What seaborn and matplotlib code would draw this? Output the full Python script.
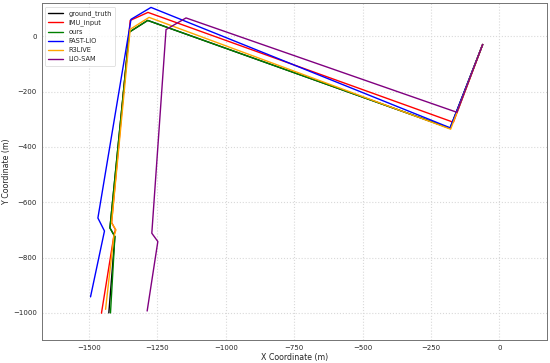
import pandas as pd
import seaborn as sns
import matplotlib.pyplot as plt

# trajectories (metres), start point is top right
methods = ['ground_truth', 'IMU_input', 'ours', 'FAST-LIO', 'R3LIVE', 'LIO-SAM']
colors = ['black', 'red', 'green', 'blue', 'orange', 'purple']

gt_x = [-61, -180, -1285, -1352, -1423, -1405, -1427]
gt_y = [-30, -333, 57, 15, -693, -724, -1000]

imu_x = [-61, -168, -1284, -1349, -1417, -1403, -1409, -1454]
imu_y = [-30, -311, 86, 57, -673, -699, -724, -1001]

ours_x = [-61, -180, -1285, -1352, -1423, -1405, -1421]
ours_y = [-30, -333, 57, 15, -693, -724, -1000]

fast_x = [-61, -180, -1273, -1346, -1467, -1443, -1494]
fast_y = [-30, -331, 104, 61, -657, -704, -942]

r3_x = [-61, -178, -1280, -1349, -1417, -1401, -1409, -1439]
r3_y = [-30, -336, 68, 25, -675, -700, -724, -987]

lio_x = [-61, -155, -1145, -1218, -1270, -1248, -1287]
lio_y = [-30, -275, 66, 24, -712, -742, -993]

xs = [gt_x, imu_x, ours_x, fast_x, r3_x, lio_x]
ys = [gt_y, imu_y, ours_y, fast_y, r3_y, lio_y]

frames = []
for name, x, y in zip(methods, xs, ys):
    frames.append(pd.DataFrame({'x': x, 'y': y, 'method': name}))
df = pd.concat(frames, ignore_index=True)

sns.set_style('whitegrid', {'grid.linestyle': ':', 'axes.edgecolor': '0.45',
                            'grid.color': '0.85'})
plt.rcParams['font.family'] = ['DejaVu Sans']

fig, ax = plt.subplots(figsize=(5.5, 3.63), dpi=100)
sns.lineplot(data=df, x='x', y='y', hue='method', hue_order=methods,
             palette=dict(zip(methods, colors)), sort=False, estimator=None,
             linewidth=1.0, ax=ax)

ax.set_xlim(-1672, 173)
ax.set_ylim(-1097, 119)
ax.set_xticks([-1500, -1250, -1000, -750, -500, -250, 0])
ax.set_yticks([0, -200, -400, -600, -800, -1000])
ax.tick_params(labelsize=5, length=2, pad=1.5, width=0.5)
ax.set_xlabel('X Coordinate (m)', fontsize=5.7, labelpad=1.5)
ax.set_ylabel('Y Coordinate (m)', fontsize=5.7, labelpad=1.5)
for s in ax.spines.values():
    s.set_linewidth(0.7)

leg = ax.legend(loc='upper left', fontsize=4.8, handlelength=2.2,
                borderpad=0.5, labelspacing=0.45, frameon=True)
leg.get_frame().set_linewidth(0.5)

plt.subplots_adjust(left=0.076, right=0.994, top=0.991, bottom=0.064)
plt.savefig('out.png', dpi=100)
